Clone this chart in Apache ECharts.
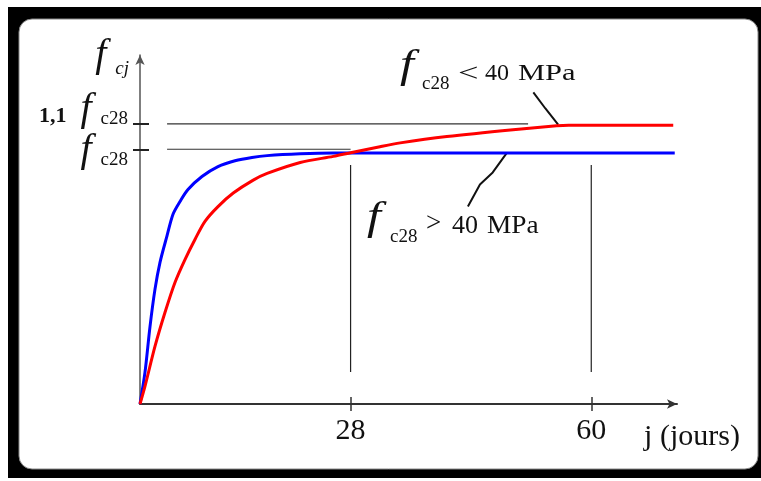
<!DOCTYPE html>
<html>
<head>
<meta charset="utf-8">
<script src="https://cdn.jsdelivr.net/npm/echarts@6/dist/echarts.min.js"></script>
<style>
html,body{margin:0;padding:0;background:#fff;}
#chart{width:761px;height:481px;}
</style>
</head>
<body>
<div id="chart"></div>
<script>
// ---- data ----
const blueDays = [0, 0.66, 1.33, 1.99, 2.66, 3.59, 4.39, 5.32, 6.38, 8.24, 10.37, 12.63, 14.89, 16.9, 21.3, 25.7, 71.1];
const blueVals = [0, 0.124, 0.304, 0.45, 0.556, 0.66, 0.745, 0.795, 0.842, 0.893, 0.932, 0.955, 0.968, 0.975, 0.982, 0.985, 0.985];
const redDays = [0, 0.66, 1.99, 3.32, 4.65, 5.98, 7.31, 8.64, 10.37, 12.4, 15.0, 16.9, 21.3, 25.7, 28, 31.9, 34.6, 40.8, 49.6, 55.4, 57, 70.9];
const redVals = [0, 0.069, 0.226, 0.359, 0.477, 0.567, 0.646, 0.717, 0.775, 0.828, 0.878, 0.905, 0.948, 0.972, 0.986, 1.01, 1.025, 1.05, 1.077, 1.092, 1.094, 1.094];

const xTickValues = [28, 60];
const xTickLabels = ['28', '60'];
const xName = 'j (jours)';
const yTickValues = [1.0, 1.1];
const yTickCoef = ['', '1,1'];
const ySymbol = 'f';
const yTickSub = ['c28', 'c28'];
const yNameSub = 'cj';

// reference / guide lines (data coordinates)
const refLine11 = [[3.6, 1.1], [51.6, 1.1]];
const refLine10 = [[3.6, 1.0], [28, 1.0]];
const vLine28 = [[28, 0.126], [28, 0.938]];
const vLine60 = [[60, 0.126], [60, 0.938]];
const leaderLow = [[52.3, 1.223], [53.9, 1.16], [55.6, 1.097]];
const leaderHigh = [[43.6, 0.775], [45.2, 0.862], [46.9, 0.909], [48.8, 0.987]];

const labelLow = {sym: 'f', sub: 'c28', op: '<', num: '40', unit: 'MPa'};
const labelHigh = {sym: 'f', sub: 'c28', op: '>', num: '40', unit: 'MPa'};

// ---- chart ----
const serif = "'Liberation Serif','Times New Roman',serif";
const ink = '#111';
const zip = (a, b) => a.map((v, i) => [v, b[i]]);

function guide(data, w, color) {
  return {type: 'line', data: data, showSymbol: false, silent: true, z: 1,
    lineStyle: {color: color || '#222', width: w || 1}, animation: false};
}

function txt(x, y, text, size, opts) {
  opts = opts || {};
  return {type: 'text', x: x, y: y, z: 20, scaleX: opts.sx || 1, silent: true,
    style: {text: text, x: 0, y: 0, fill: ink, fontFamily: serif, fontSize: size,
      fontStyle: opts.italic ? 'italic' : 'normal', fontWeight: opts.bold ? 'bold' : 'normal',
      align: 'left', verticalAlign: 'middle'}};
}

const chart = echarts.init(document.getElementById('chart'), null, {renderer: 'canvas'});

const yRich = {
  f0: {fontFamily: serif, fontStyle: 'italic', fontSize: 40, lineHeight: 20, verticalAlign: 'middle', padding: [3, 9, 0, 0], color: ink},
  s0: {fontFamily: serif, fontSize: 19, lineHeight: 20, verticalAlign: 'middle', padding: [22, 0, 0, 0], color: ink},
  n1: {fontFamily: serif, fontWeight: 'bold', fontSize: 22, lineHeight: 20, verticalAlign: 'middle', padding: [0, 14, 14, 0], color: ink},
  f1: {fontFamily: serif, fontStyle: 'italic', fontSize: 40, lineHeight: 20, verticalAlign: 'middle', padding: [0, 9, 29, 0], color: ink},
  s1: {fontFamily: serif, fontSize: 19, lineHeight: 20, verticalAlign: 'middle', padding: [0, 0, 9, 0], color: ink}
};

function yLabel(v) {
  const i = yTickValues.findIndex(t => Math.abs(t - v) < 1e-9);
  if (i < 0) return '';
  const k = yTickCoef[i] ? '1' : '0';
  return (yTickCoef[i] ? '{n1|' + yTickCoef[i] + '}' : '') + '{f' + k + '|' + ySymbol + '}{s' + k + '|' + yTickSub[i] + '}';
}

const option = {
  backgroundColor: '#fff',
  animation: false,
  grid: {left: 140, right: 84, top: 55, bottom: 77},
  xAxis: [{
    type: 'value', min: 0, max: 71.4,
    axisLine: {show: true, onZero: false, symbol: ['none', 'arrow'], symbolSize: [7, 10],
      lineStyle: {color: '#333', width: 2}},
    axisTick: {show: true, customValues: xTickValues, length: 7, lineStyle: {color: '#333', width: 1.5}},
    axisLabel: {show: true, customValues: xTickValues, margin: 12, showMinLabel: true, showMaxLabel: true,
      formatter: v => xTickLabels[xTickValues.indexOf(v)],
      fontFamily: serif, fontSize: 30, lineHeight: 30, color: ink},
    splitLine: {show: false},
    name: xName, nameLocation: 'end', nameGap: 15,
    nameTextStyle: {fontFamily: serif, fontSize: 30, lineHeight: 30, color: ink,
      align: 'center', verticalAlign: 'top', padding: [18, 0, 0, 0]}
  }, {
    type: 'value', min: 0, max: 71.4, position: 'bottom',
    axisLine: {show: false},
    axisTick: {show: true, inside: true, customValues: xTickValues, length: 7, lineStyle: {color: '#333', width: 1.5}},
    axisLabel: {show: false}, splitLine: {show: false}
  }],
  yAxis: [{
    type: 'value', min: 0, max: 1.37,
    axisLine: {show: true, onZero: false, symbol: ['none', 'arrow'], symbolSize: [7, 10],
      lineStyle: {color: '#555', width: 1.5}},
    axisTick: {show: true, customValues: yTickValues, length: 7, lineStyle: {color: '#222', width: 2}},
    axisLabel: {show: true, customValues: [yTickValues[0]], margin: 12, formatter: yLabel, rich: yRich},
    splitLine: {show: false},
    name: '{f|' + ySymbol + '}{s|' + yNameSub + '}', nameLocation: 'end', nameGap: 0,
    nameTextStyle: {align: 'right', verticalAlign: 'middle', padding: [0, 11, 0, 0],
      rich: {
        f: {fontFamily: serif, fontStyle: 'italic', fontSize: 40, lineHeight: 20, verticalAlign: 'middle', padding: [0, 9, 0, 0], color: ink},
        s: {fontFamily: serif, fontStyle: 'italic', fontSize: 19, lineHeight: 20, verticalAlign: 'middle', padding: [27, 0, 0, 0], color: ink}
      }}
  }, {
    type: 'value', min: 0, max: 1.37, position: 'left',
    axisLine: {show: false},
    axisTick: {show: true, inside: true, customValues: yTickValues, length: 9, lineStyle: {color: '#222', width: 2}},
    axisLabel: {show: true, customValues: [yTickValues[1]], margin: 12, formatter: yLabel, rich: yRich},
    splitLine: {show: false}
  }],
  series: [
    guide(refLine11, 1.2, '#333'),
    guide(refLine10, 1.2, '#333'),
    guide(vLine28, 1.2, '#222'),
    guide(vLine60, 1.2, '#222'),
    {name: 'fc28 > 40 MPa', type: 'line', data: zip(blueDays, blueVals), smooth: 0.3,
      showSymbol: false, z: 3, lineStyle: {color: '#0000ff', width: 3}},
    {name: 'fc28 < 40 MPa', type: 'line', data: zip(redDays, redVals), smooth: 0.3,
      showSymbol: false, z: 4, lineStyle: {color: '#ff0000', width: 3}},
    guide(leaderLow, 2, '#111'),
    guide(leaderHigh, 2, '#111')
  ],
  graphic: [
    {type: 'rect', z: -100, silent: true, shape: {x: 8, y: 7, width: 753, height: 471}, style: {fill: '#000'}},
    {type: 'rect', z: -99, silent: true, shape: {x: 19, y: 19, width: 739, height: 450, r: 13}, style: {fill: '#fff', stroke: '#888', lineWidth: 1}},
    // label for fc28 < 40 MPa
    txt(400, 66, labelLow.sym, 40, {italic: true, sx: 1.25}),
    txt(422, 83.6, labelLow.sub, 19),
    txt(458, 74.5, labelLow.op, 26, {sx: 1.4}),
    txt(485, 73.9, labelLow.num, 24),
    txt(518, 73.9, labelLow.unit, 24, {sx: 1.27}),
    // label for fc28 > 40 MPa
    txt(367, 218, labelHigh.sym, 40, {italic: true, sx: 1.25}),
    txt(390, 236.6, labelHigh.sub, 19),
    txt(426, 223.5, labelHigh.op, 27),
    txt(452, 226.2, labelHigh.num, 26),
    txt(487, 226.2, labelHigh.unit, 26, {sx: 1.05})
  ]
};
chart.setOption(option);
</script>
</body>
</html>
